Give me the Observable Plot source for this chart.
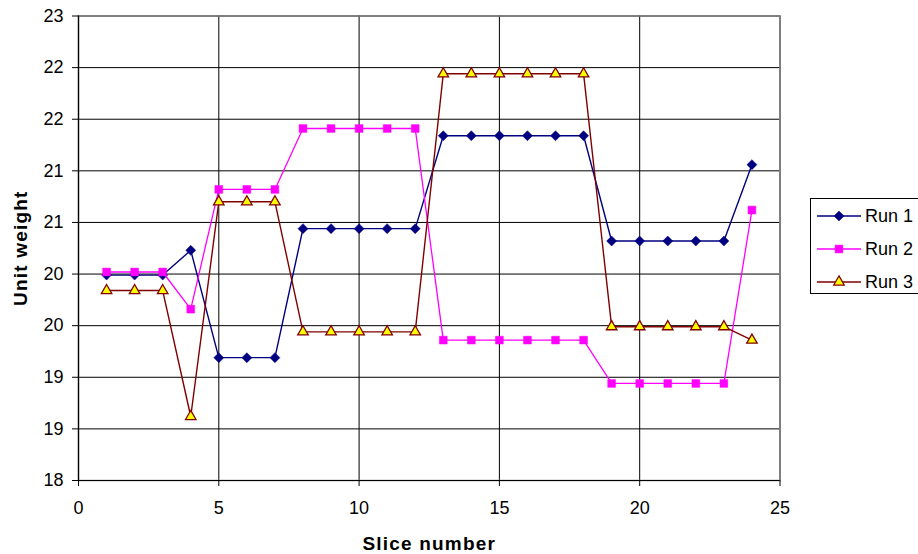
<!DOCTYPE html>
<html>
<head>
<meta charset="utf-8">
<script src="https://cdn.jsdelivr.net/npm/d3@7"></script>
<script src="https://cdn.jsdelivr.net/npm/@observablehq/plot@0.6"></script>
<style>
  html, body { margin: 0; padding: 0; background: #fff; overflow: hidden; }
  #wrap { position: relative; width: 918px; height: 554px; overflow: hidden; font-family: "Liberation Sans", Arial, sans-serif; }
  #legend { position: absolute; left: 810px; top: 198px; width: 130px; height: 96px; border: 1px solid #000; background: #fff; box-sizing: border-box; }
</style>
</head>
<body>
<div id="wrap"><div id="chart"></div><div id="legend"></div></div>
<script>
const slices = [1,2,3,4,5,6,7,8,9,10,11,12,13,14,15,16,17,18,19,20,21,22,23,24];
const run1 = [19.99,19.99,19.99,20.23,19.19,19.19,19.19,20.44,20.44,20.44,20.44,20.44,21.34,21.34,21.34,21.34,21.34,21.34,20.32,20.32,20.32,20.32,20.32,21.06];
const run2 = [20.02,20.02,20.02,19.66,20.82,20.82,20.82,21.41,21.41,21.41,21.41,21.41,19.36,19.36,19.36,19.36,19.36,19.36,18.94,18.94,18.94,18.94,18.94,20.62];
const run3 = [19.84,19.84,19.84,18.62,20.70,20.70,20.70,19.44,19.44,19.44,19.44,19.44,21.94,21.94,21.94,21.94,21.94,21.94,19.49,19.49,19.49,19.49,19.49,19.36];
const seriesNames = ["Run 1","Run 2","Run 3"];
const xTicks = [0,5,10,15,20,25];
const yTicks = [18,18.5,19,19.5,20,20.5,21,21.5,22,22.5];
const yTickLabels = ["18","19","19","20","20","21","21","22","22","23"];
const xLabel = "Slice number";
const yLabel = "Unit weight";

const styles = [
  {line: "#000080", fill: "#000080", stroke: "#000080", symbol: "diamond2", r: 4.5, sw: 1.4},
  {line: "#ff00ff", fill: "#ff00ff", stroke: "#ff00ff", symbol: "square", r: 4.4, sw: 1.3},
  {line: "#800000", fill: "#ffff00", stroke: "#800000", symbol: "triangle", r: 3.9, sw: 1.4}
];
const allRuns = [run1, run2, run3];
const table = allRuns.map(vals => slices.map((s, i) => ({slice: s, value: vals[i]})));

const marks = [
  Plot.ruleY(yTicks, {stroke: "#000", strokeWidth: 1}),
  Plot.ruleX(xTicks, {stroke: "#000", strokeWidth: 1}),
  Plot.frame({stroke: "#808080", strokeWidth: 1.5}),
  Plot.ruleX([0], {stroke: "#000", strokeWidth: 1.2}),
  Plot.ruleY([18], {stroke: "#000", strokeWidth: 1.2}),
  Plot.axisX({ticks: xTicks, tickSize: 6, tickPadding: 15, label: null, fontSize: 18, stroke: "#000"}),
  Plot.axisY({ticks: yTicks, tickFormat: (d) => yTickLabels[yTicks.indexOf(d)], tickSize: 6, tickPadding: 9, label: null, fontSize: 18}),
  Plot.text([xLabel], {frameAnchor: "bottom", dy: 63, fontSize: 19, fontWeight: "bold", textAnchor: "middle", lineAnchor: "middle", fill: "#000"}),
  Plot.text([yLabel], {frameAnchor: "left", dx: -58, rotate: -90, fontSize: 19, fontWeight: "bold", textAnchor: "middle", lineAnchor: "middle", fill: "#000"})
];
table.forEach((rows, k) => {
  const st = styles[k];
  marks.push(Plot.line(rows, {x: "slice", y: "value", stroke: st.line, strokeWidth: st.sw}));
  marks.push(Plot.dot(rows, {x: "slice", y: "value", symbol: st.symbol, r: st.r, fill: st.fill, stroke: st.stroke, strokeWidth: k === 2 ? 1.3 : 0.5}));
});

const chart = Plot.plot({
  width: 918,
  height: 554,
  marginLeft: 78,
  marginRight: 138.5,
  marginTop: 15.5,
  marginBottom: 74,
  style: {fontFamily: "'Liberation Sans', Arial, sans-serif", color: "#000", background: "#fff"},
  x: {domain: [0, 25]},
  y: {domain: [18, 22.5]},
  marks
});
document.getElementById("chart").appendChild(chart);
d3.select(chart).selectAll("text").filter(function() {
  const t = this.textContent;
  return t === xLabel || t === yLabel;
}).style("letter-spacing", "1.2px");

// Legend
const lg = d3.select("#legend").append("svg").attr("width", 130).attr("height", 96);
const sym = {diamond2: d3.symbolDiamond2, square: d3.symbolSquare, triangle: d3.symbolTriangle};
seriesNames.forEach((name, k) => {
  const st = styles[k];
  const cy = 17 + k * 33;
  const g = lg.append("g");
  g.append("line").attr("x1", 6).attr("x2", 50).attr("y1", cy).attr("y2", cy).attr("stroke", st.line).attr("stroke-width", st.sw + 0.3);
  g.append("path").attr("d", d3.symbol(sym[st.symbol], Math.PI * st.r * st.r)()).attr("transform", `translate(28,${cy})`)
    .attr("fill", st.fill).attr("stroke", st.stroke).attr("stroke-width", k === 2 ? 1.3 : 0.5);
  g.append("text").attr("x", 54).attr("y", cy).attr("dy", "0.35em").attr("font-size", 18).attr("fill", "#000")
    .attr("font-family", "'Liberation Sans', Arial, sans-serif").text(name);
});
</script>
</body>
</html>
